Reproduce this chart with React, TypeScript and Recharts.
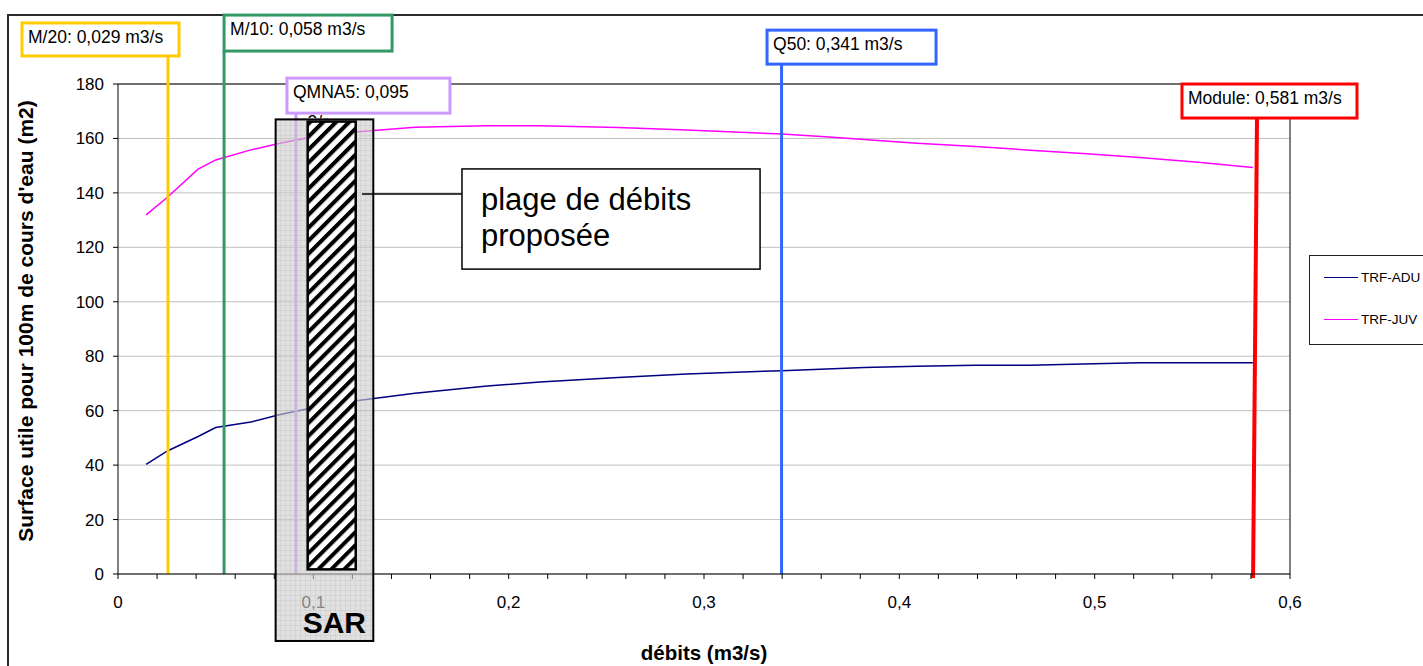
import React from 'react';
import {
    LineChart,
    Line,
    XAxis,
    YAxis,
    CartesianGrid,
    Legend,
    ReferenceLine,
    ReferenceArea
} from 'recharts';

const FONT = "'Liberation Sans', Arial, sans-serif";

// débits (m3/s) and useful surface per 100 m of stream (m2)
const debits = [0.0144, 0.0253, 0.041, 0.05, 0.068, 0.083, 0.096, 0.123, 0.152, 0.189, 0.216, 0.256, 0.291, 0.34, 0.366, 0.382, 0.409, 0.439, 0.467, 0.494, 0.523, 0.553, 0.581];
const trfAdu = [40.3, 45.2, 50.5, 53.8, 55.8, 58.6, 60.5, 63.7, 66.4, 69.1, 70.5, 72.2, 73.5, 74.7, 75.4, 75.9, 76.3, 76.7, 76.7, 77.1, 77.6, 77.6, 77.6];
const trfJuv = [131.9, 138.4, 148.7, 152.1, 155.8, 158.2, 160.1, 162.5, 164.1, 164.7, 164.7, 164.0, 163.1, 161.6, 160.4, 159.6, 158.2, 157.0, 155.7, 154.5, 153.0, 151.3, 149.3];

const seriesNames = ['TRF-ADU', 'TRF-JUV'];
const seriesKeys = ['adu', 'juv'];
const seriesColors = ['#000080', '#FF00FF'];

const xTicks = [0, 0.02, 0.04, 0.06, 0.08, 0.1, 0.12, 0.14, 0.16, 0.18, 0.2, 0.22, 0.24, 0.26, 0.28, 0.3, 0.32, 0.34, 0.36, 0.38, 0.4, 0.42, 0.44, 0.46, 0.48, 0.5, 0.52, 0.54, 0.56, 0.58, 0.6];
const yTicks = [0, 20, 40, 60, 80, 100, 120, 140, 160, 180];

// reference flows (vertical markers)
const markerLabels = ['M/20: 0,029 m3/s', 'M/10: 0,058 m3/s', 'QMNA5: 0,095', 'Q50: 0,341  m3/s', 'Module: 0,581 m3/s'];
const markerSecondLine = ['', '', 'm3/s', '', ''];
const markerXTop = [0.0256, 0.0543, 0.0911, 0.3397, 0.5831];
const markerXBottom = [0.0256, 0.0543, 0.0911, 0.3397, 0.5811];
const markerYTop = [190.3, 192.1, 169.3, 187.3, 167.5];
const markerYBottom = [0, 0, 0, 0, -1.5];
const markerColors = ['#FFCC00', '#339966', '#CC99FF', '#3366FF', '#FF0000'];

// SAR range and proposed flow range
const sarRange = { x1: 0.0807, x2: 0.1307, y1: -24.6, y2: 167.0 };
const plageRange = { x1: 0.0971, x2: 0.1217, y1: 1.7, y2: 166.2 };
const calloutRange = { x1: 0.1761, x2: 0.3287, y1: 112.0, y2: 148.8 };
const connector = { x1: 0.1249, x2: 0.1761, y: 139.6 };
const calloutLines = ['plage de débits', 'proposée'];

// label boxes, pixel offsets from the top of each marker line
const markerBoxes = [
    { dx: -146, w: 157, h: 33 },
    { dx: 0, w: 168, h: 36 },
    { dx: -9, w: 163, h: 35 },
    { dx: -14.5, w: 169, h: 34 },
    { dx: -75, w: 175, h: 34 }
];
const markerWidths = [3, 3, 3, 3, 4];

const chartData = debits.map((x, i) => ({ x, adu: trfAdu[i], juv: trfJuv[i] }));

const fmtX = (v: number) => (Math.round(v * 100) % 10 === 0 ? String(v).replace('.', ',') : '');

const makeMarkerShape = (i: number) => (props: any) => {
    const { x1, y1, x2, y2 } = props;
    const firstTop = y1 < y2;
    const tx = firstTop ? x1 : x2;
    const ty = Math.min(y1, y2);
    const bx = firstTop ? x2 : x1;
    const by = Math.max(y1, y2);
    const b = markerBoxes[i];
    const bxLeft = tx + b.dx;
    const byTop = ty - b.h;
    const clipId = `mk-clip-${i}`;
    return (
        <g>
            <defs>
                <clipPath id={clipId}>
                    <rect x={bxLeft} y={byTop + b.h} width={b.w} height={5} />
                </clipPath>
            </defs>
            <line x1={tx} y1={ty} x2={bx} y2={by} stroke={markerColors[i]} strokeWidth={markerWidths[i]} />
            <rect x={bxLeft} y={byTop} width={b.w} height={b.h} fill="#fff" stroke={markerColors[i]} strokeWidth={3} />
            <text x={bxLeft + 6} y={byTop + 20} fontSize={17.5} fontFamily={FONT} fill="#000">{markerLabels[i]}</text>
            {markerSecondLine[i] && (
                <text x={bxLeft + 6} y={byTop + 50} fontSize={17.5} fontFamily={FONT} fill="#000" clipPath={`url(#${clipId})`}>
                    {markerSecondLine[i]}
                </text>
            )}
        </g>
    );
};

const SarShape = (props: any) => {
    const { x, y, width, height } = props;
    return (
        <g>
            <defs>
                <pattern id="sarPattern" patternUnits="userSpaceOnUse" width="5" height="5">
                    <rect width="5" height="5" fill="rgba(205,205,205,0.62)" />
                    <path d="M0 0 H5 M0 0 V5" stroke="rgba(165,165,165,0.35)" strokeWidth="1" />
                </pattern>
            </defs>
            <rect x={x} y={y} width={width} height={height} fill="url(#sarPattern)" stroke="#000" strokeWidth={2} />
            <text x={x + 27} y={y + height - 8} fontSize={30} fontWeight="bold" fontFamily={FONT} fill="#000">SAR</text>
        </g>
    );
};

const PlageShape = (props: any) => {
    const { x, y, width, height } = props;
    return (
        <g>
            <defs>
                <pattern id="hatch" patternUnits="userSpaceOnUse" width="9.2" height="9.2" patternTransform="rotate(45)">
                    <rect width="9.2" height="9.2" fill="#fff" />
                    <rect width="4" height="9.2" fill="#000" />
                </pattern>
            </defs>
            <rect x={x} y={y} width={width} height={height} fill="url(#hatch)" stroke="#000" strokeWidth={2.5} />
        </g>
    );
};

const CalloutShape = (props: any) => {
    const { x, y, width, height } = props;
    return (
        <g>
            <rect x={x} y={y} width={width} height={height} fill="#fff" stroke="#000" strokeWidth={1.5} />
            {calloutLines.map((t, i) => (
                <text key={t} x={x + 19} y={y + 41 + i * 36} fontSize={31} fontFamily={FONT} fill="#000">{t}</text>
            ))}
        </g>
    );
};

const renderLegend = (props: any) => {
    const payload = props && props.payload && props.payload.length ? props.payload : seriesNames.map((n, i) => ({ value: n, color: seriesColors[i] }));
    return (
        <div style={{ width: 140, height: 90, border: '1px solid #222', background: '#fff', boxSizing: 'border-box', position: 'relative', fontFamily: FONT }}>
            {payload.map((entry: any, i: number) => (
                <div key={entry.value} style={{ position: 'absolute', left: 14, top: 12 + i * 42, height: 18, display: 'flex', alignItems: 'center' }}>
                    <div style={{ width: 34, height: 0, borderTop: `1.5px solid ${entry.color}` }} />
                    <span style={{ marginLeft: 3, fontSize: 13.5, color: '#000' }}>{entry.value}</span>
                </div>
            ))}
        </div>
    );
};

const YLabel = (props: any) => {
    const vb = props.viewBox || { y: 84, height: 490 };
    const cy = vb.y + vb.height / 2 - 8;
    return (
        <text x={33} y={cy} transform={`rotate(-90, 33, ${cy})`} textAnchor="middle" fontSize={21} fontWeight="bold" fontFamily={FONT} fill="#000">
            Surface utile pour 100m de cours d'eau (m2)
        </text>
    );
};

const XLabel = (props: any) => {
    const vb = props.viewBox || { x: 118, width: 1172 };
    return (
        <text x={vb.x + vb.width / 2} y={660} textAnchor="middle" fontSize={20.5} fontWeight="bold" fontFamily={FONT} fill="#000">
            débits (m3/s)
        </text>
    );
};

export default function App() {
    return (
        <div style={{ position: 'absolute', left: 0, top: 0, width: 1423, height: 666, overflow: 'hidden', background: '#fff' }}>
            <div style={{ position: 'absolute', left: 7, top: 14, width: 2000, height: 2000, borderTop: '2px solid #2b2b2b', borderLeft: '2px solid #2b2b2b' }} />
            <div style={{ position: 'absolute', left: 0, top: 0 }}>
                <LineChart
                    width={1423}
                    height={666}
                    data={chartData}
                    margin={{ top: 84, right: 133, bottom: 52, left: 58 }}
                    style={{ fontFamily: FONT }}
                >
                    <CartesianGrid vertical={false} stroke="#c0c0c0" strokeWidth={1} />
                    <XAxis
                        dataKey="x"
                        type="number"
                        domain={[0, 0.6]}
                        ticks={xTicks}
                        interval={0}
                        tickFormatter={fmtX}
                        height={40}
                        stroke="#000"
                        tickSize={5}
                        tickMargin={17}
                        tick={{ fill: '#000', fontSize: 17, fontFamily: FONT }}
                        label={<XLabel />}
                    />
                    <YAxis
                        type="number"
                        domain={[0, 180]}
                        ticks={yTicks}
                        interval={0}
                        width={60}
                        stroke="#000"
                        tickSize={5}
                        tickMargin={9}
                        tick={{ fill: '#000', fontSize: 17, fontFamily: FONT }}
                        label={<YLabel />}
                    />
                    <ReferenceLine y={180} stroke="#000" strokeWidth={1} />
                    <ReferenceLine x={0.6} stroke="#000" strokeWidth={1} />
                    {seriesKeys.map((k, i) => (
                        <Line
                            key={k}
                            type="linear"
                            dataKey={k}
                            name={seriesNames[i]}
                            stroke={seriesColors[i]}
                            strokeWidth={1.5}
                            dot={false}
                            isAnimationActive={false}
                        />
                    ))}
                    {markerLabels.map((lab, i) => (
                        <ReferenceLine
                            key={lab}
                            segment={[{ x: markerXBottom[i], y: markerYBottom[i] }, { x: markerXTop[i], y: markerYTop[i] }]}
                            ifOverflow="visible"
                            shape={makeMarkerShape(i)}
                            zIndex={450}
                        />
                    ))}
                    <ReferenceArea {...sarRange} ifOverflow="visible" shape={SarShape} zIndex={2100} />
                    <ReferenceArea {...plageRange} ifOverflow="visible" shape={PlageShape} zIndex={2200} />
                    <ReferenceLine
                        segment={[{ x: connector.x1, y: connector.y }, { x: connector.x2, y: connector.y }]}
                        ifOverflow="visible"
                        stroke="#000"
                        strokeWidth={1.5}
                        zIndex={2300}
                    />
                    <ReferenceArea {...calloutRange} ifOverflow="visible" shape={CalloutShape} zIndex={2300} />
                    <Legend
                        layout="horizontal"
                        verticalAlign="middle"
                        align="center"
                        content={renderLegend}
                        wrapperStyle={{ left: 1309, top: 255, width: 140 }}
                    />
                </LineChart>
            </div>
        </div>
    );
}
